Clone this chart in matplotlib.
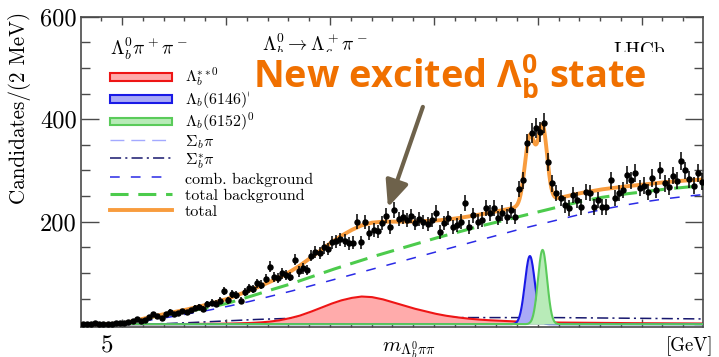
import numpy as np
import matplotlib
matplotlib.use("Agg")
import matplotlib.pyplot as plt
from matplotlib.patches import Patch, Rectangle
from matplotlib.legend_handler import HandlerPatch
from matplotlib.ticker import MultipleLocator, FixedLocator, NullFormatter

plt.rcParams["mathtext.fontset"] = "cm"
plt.rcParams["font.family"] = ["cmr10", "DejaVu Serif"]
plt.rcParams["axes.formatter.use_mathtext"] = True
plt.rcParams["lines.scale_dashes"] = False
plt.rcParams["mathtext.rm"] = "Open Sans:bold"
plt.rcParams["mathtext.bf"] = "Open Sans:bold"
plt.rcParams["mathtext.it"] = "Open Sans:bold"

# ---------------- histogram: Lambda_b pi pi candidates per 2 MeV ----------------
BIN_LOW = 5.930      # GeV
BIN_WIDTH = 0.002    # GeV
counts = [
    1, 0, 1, 2, 0, 1, 1, 0, 2, 3,
    2, 4, 7, 11, 6, 9, 14, 19, 15, 13,
    19, 24, 20, 22, 25, 23, 27, 31, 34, 30,
    39, 42, 40, 46, 64, 47, 59, 57, 46, 63,
    70, 69, 80, 77, 89, 112, 92, 90, 99, 96,
    93, 126, 103, 109, 106, 134, 141, 139, 150, 147,
    160, 162, 166, 163, 158, 159, 200, 160, 199, 178,
    184, 181, 198, 212, 190, 223, 205, 209, 203, 211,
    198, 205, 199, 196, 203, 217, 180, 198, 207, 190,
    193, 200, 236, 190, 213, 200, 204, 227, 217, 227,
    207, 217, 210, 223, 210, 264, 281, 353, 373, 383,
    375, 392, 316, 275, 256, 246, 233, 227, 252, 242,
    229, 258, 256, 229, 242, 229, 229, 281, 246, 256,
    262, 291, 281, 295, 266, 270, 258, 285, 262, 300,
    275, 268, 290, 280, 318, 300, 283, 270, 295, 278,
]

# ---------------- fit components ----------------
# background shapes sampled every 10 MeV from 5.930 GeV
BKG_KNOT_LOW = 5.930
BKG_KNOT_STEP = 0.010
comb_background = [
    0, 0, 1, 6, 12, 19, 26, 34, 43, 53, 63, 74, 85, 96, 107, 118,
    129, 140, 151, 162, 173, 184, 194, 204, 214, 223, 231, 238, 244, 249, 253,
]
total_background = [
    0, 0, 1, 10, 18, 24, 31, 40, 52, 65, 77, 91, 105, 118, 131, 143,
    155, 167, 178, 189, 199, 209, 219, 229, 239, 247, 253, 258, 263, 267, 270,
]
sigma_b_pi = [
    0, 0, 0, 0.3, 0.6, 0.8, 1, 1, 1, 1, 1, 1, 1, 1, 1, 1,
    1, 1, 1, 1, 1, 1, 1, 1, 1, 1, 1, 1, 1, 1, 1,
]
sigma_b_star_pi = [
    0, 0, 0, 0.3, 1, 2.5, 4.5, 6.5, 8.5, 10, 11.5, 12.3, 12.8, 13, 13, 13,
    13, 13, 13, 13, 13, 13, 13, 12.8, 12.5, 12.2, 11.8, 11.4, 11, 10.6, 10.2,
]
# broad Lambda_b**0 shape sampled every 5 MeV from 5.930 GeV
BROAD_KNOT_LOW = 5.930
BROAD_KNOT_STEP = 0.005
lambda_b_broad = [
    0, 0, 0, 0, 0, 0, 0, 0, 0.1, 0.2, 0.3, 0.5, 0.6, 0.8, 1, 1.5,
    2, 3, 4.5, 7, 11, 16, 23, 31, 39, 46, 51, 54, 53, 49, 43, 37,
    31, 26, 21, 17, 14, 11.5, 9.5, 8, 7, 6, 5, 4.5, 4, 3.6, 3.2, 3,
    2.8, 2.6, 2.4, 2.2, 2.1, 2, 1.9, 1.8, 1.7, 1.6, 1.5, 1.4, 1.3,
]
# narrow states: mass [GeV], resolution [GeV], peak height [candidates / 2 MeV]
narrow_mass = [6.1462, 6.1523]
narrow_sigma = [0.0024, 0.0022]
narrow_height = [133, 145]

# ---------------- derived curves ----------------
n_bins = len(counts)
centres = BIN_LOW + BIN_WIDTH * (np.arange(n_bins) + 0.5)
y = np.array(counts, dtype=float)
yerr = np.sqrt(y)

bkg_knots = BKG_KNOT_LOW + BKG_KNOT_STEP * np.arange(len(comb_background))
broad_knots = BROAD_KNOT_LOW + BROAD_KNOT_STEP * np.arange(len(lambda_b_broad))
xf = np.linspace(BIN_LOW, BIN_LOW + BIN_WIDTH * n_bins, 1201)

comb_f = np.interp(xf, bkg_knots, comb_background)
totbkg_f = np.interp(xf, bkg_knots, total_background)
sb_f = np.interp(xf, bkg_knots, sigma_b_pi)
sbs_f = np.interp(xf, bkg_knots, sigma_b_star_pi)
broad_f = np.interp(xf, broad_knots, lambda_b_broad)
peak_f = [h * np.exp(-0.5 * ((xf - m) / s) ** 2)
          for m, s, h in zip(narrow_mass, narrow_sigma, narrow_height)]
total_f = totbkg_f + sb_f + sbs_f + broad_f + peak_f[0] + peak_f[1]

# ---------------- figure ----------------
W, H = 719, 357
fig = plt.figure(figsize=(W / 100, H / 100), dpi=100)
ax = fig.add_axes([81 / W, 30 / H, 622 / W, 310.3 / H])

c_red_line, c_red_fill = "#ee1515", "#ffabab"
c_blue_line, c_blue_fill = "#1a1ae6", "#aaaaf6"
c_grn_line, c_grn_fill = "#5acb5a", "#b8ebb8"
c_sb, c_sbs = "#a3a9ff", "#17176e"
c_comb, c_totbkg, c_total = "#2a2ae6", "#4ccb4c", "#f89c3e"

l_sbs, = ax.plot(xf, sbs_f, color=c_sbs, lw=1.1, dashes=(8, 3, 1.5, 3), zorder=1.5)
ax.fill_between(xf, 0, broad_f, color=c_red_fill, lw=0, zorder=2)
ax.plot(xf, broad_f, color=c_red_line, lw=1.5, zorder=2.1)
l_sb, = ax.plot(xf, sb_f, color=c_sb, lw=1.0, dashes=(10, 5), zorder=2.5)
ax.fill_between(xf, 0, peak_f[0], color=c_blue_fill, lw=0, zorder=3.1)
ax.plot(xf, peak_f[0], color=c_blue_line, lw=1.5, zorder=3.15)
ax.fill_between(xf, 0, peak_f[1], color=c_grn_fill, lw=0, zorder=3.2)
ax.plot(xf, peak_f[1], color=c_grn_line, lw=1.5, zorder=3.25)
l_comb, = ax.plot(xf, comb_f, color=c_comb, lw=1.1, dashes=(7, 8), zorder=3.3)
l_tb, = ax.plot(xf, totbkg_f, color=c_totbkg, lw=2.2, dashes=(13, 7), zorder=3.4)
l_tot, = ax.plot(xf, total_f, color=c_total, lw=2.8, zorder=4)
ax.errorbar(centres, y, yerr=yerr, fmt="o", color="black", ms=3.6,
            elinewidth=1.1, capsize=0, zorder=6)

ax.set_xlim(5.9302, 6.2295)
ax.set_ylim(-5.5, 600)

ax.xaxis.set_major_locator(MultipleLocator(0.05))
ax.xaxis.set_minor_locator(MultipleLocator(0.01))
ax.xaxis.set_major_formatter(NullFormatter())
ax.yaxis.set_major_locator(FixedLocator([200, 400, 600]))
ax.yaxis.set_minor_locator(MultipleLocator(50))
ax.set_yticklabels(["200", "400", "600"])
ax.tick_params(which="both", direction="in", top=True, right=True,
               color="#4a4a4a", width=1.0)
ax.tick_params(axis="y", which="major", length=13, labelsize=17.5, pad=3)
ax.tick_params(axis="y", which="minor", length=6.5)
ax.tick_params(axis="x", which="major", length=6)
ax.tick_params(axis="x", which="minor", length=3)
for sp in ax.spines.values():
    sp.set_color("#4a4a4a")
    sp.set_linewidth(1.2)

ax.text(5.9425, -0.026, "5", transform=ax.get_xaxis_transform(),
        ha="center", va="top", fontsize=18)
fig.text(713 / W, 1 - 336 / H, "[GeV]", ha="right", va="top", fontsize=13.5)
fig.text(382 / W, 1 - 352 / H, r"$m_{\Lambda_b^0\pi\pi}$", ha="left",
         va="baseline", fontsize=15)
fig.text(20 / W, 1 - 12 / H, "Candidates/(2 MeV)", rotation=90,
         ha="center", va="top", fontsize=15.2)

# legend
def thin_box(legend, orig_handle, xdescent, ydescent, width, height, fontsize):
    h = 0.5 * height
    return Rectangle((-xdescent, -ydescent + (height - h) / 2), width, h)

handles = [
    Patch(facecolor=c_red_fill, edgecolor=c_red_line, lw=1.5),
    Patch(facecolor=c_blue_fill, edgecolor=c_blue_line, lw=1.5),
    Patch(facecolor=c_grn_fill, edgecolor=c_grn_line, lw=1.5),
    l_sb, l_sbs, l_comb, l_tb, l_tot,
]
labels = [
    r"$\Lambda_b^{**0}$", r"$\Lambda_b(6146)^0$", r"$\Lambda_b(6152)^0$",
    r"$\Sigma_b\pi$", r"$\Sigma_b^{*}\pi$", "comb. background",
    "total background", "total",
]
ax.legend(handles, labels, loc="upper left",
          bbox_to_anchor=(110 / W, 1 - 66 / H), bbox_transform=fig.transFigure,
          frameon=False, fontsize=11.5, borderpad=0, borderaxespad=0,
          handlelength=3.9, handleheight=1.1, labelspacing=0.0,
          handletextpad=0.8,
          handler_map={Patch: HandlerPatch(patch_func=thin_box)})

fig.text(110 / W, 1 - 55 / H, r"$\Lambda_b^0\pi^+\pi^-$", fontsize=14,
         ha="left", va="baseline")
fig.text(262 / W, 1 - 51 / H, r"$\Lambda_b^0\to\Lambda_c^+\pi^-$", fontsize=14,
         ha="left", va="baseline")
fig.text(665 / W, 1 - 56 / H, "LHCb", fontsize=14, ha="right", va="baseline")

# highlighted caption on a white panel
fig.add_artist(Rectangle((249 / W, 1 - 104 / H), 430 / W, 52.5 / H,
                         transform=fig.transFigure, facecolor="white",
                         edgecolor="none", zorder=4))
fig.text(253 / W, 1 - 88 / H,
         r"New excited $\mathbf{\Lambda}^{\mathbf{0}}_{\mathbf{b}}$ state",
         fontsize=27.3, family="Open Sans", fontweight="bold", color="#f07000",
         math_fontfamily="custom", ha="left", va="baseline", zorder=5)
ax.annotate("", xy=(6.0779, 228), xytext=(6.0947, 424),
            arrowprops=dict(arrowstyle="-|>,head_length=0.8,head_width=0.35",
                            color="#6e624b", lw=3, mutation_scale=20,
                            shrinkA=0, shrinkB=0),
            zorder=7)

fig.savefig("out.png", dpi=100)
